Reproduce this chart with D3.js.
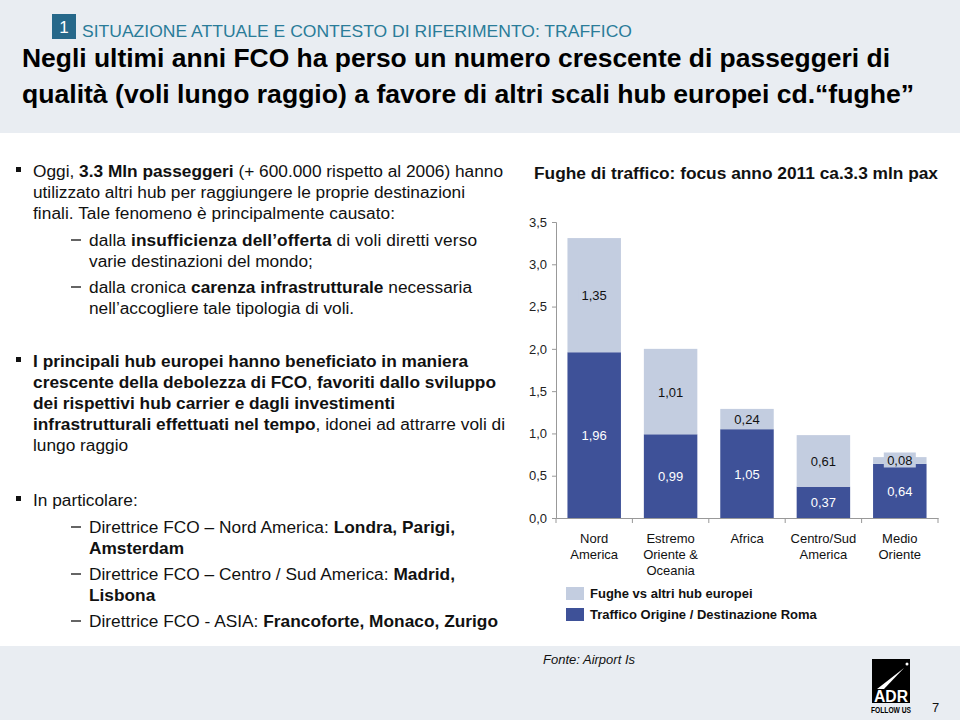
<!DOCTYPE html>
<html><head><meta charset="utf-8">
<script src="https://cdn.jsdelivr.net/npm/d3@7"></script>
<style>body{margin:0;background:#fff}svg{display:block}text{font-family:"Liberation Sans",Arial,sans-serif}</style>
</head><body>
<script>
const categories = ["Nord America", "Estremo Oriente & Oceania", "Africa", "Centro/Sud America", "Medio Oriente"];
const categoryLines = [["Nord","America"],["Estremo","Oriente &","Oceania"],["Africa"],["Centro/Sud","America"],["Medio","Oriente"]];
const traffico = [1.96, 0.99, 1.05, 0.37, 0.64];
const fughe = [1.35, 1.01, 0.24, 0.61, 0.08];
const yTicks = [0, 0.5, 1.0, 1.5, 2.0, 2.5, 3.0, 3.5];
const seriesNames = ["Fughe vs altri hub europei", "Traffico Origine / Destinazione Roma"];

const W = 960, H = 720;
const svg = d3.select("body").append("svg").attr("width", W).attr("height", H);

// header & footer bands
svg.append("rect").attr("x",0).attr("y",0).attr("width",W).attr("height",133).attr("fill","#e9edf2");
svg.append("rect").attr("x",0).attr("y",646).attr("width",W).attr("height",74).attr("fill","#e9edf2");

svg.append("rect").attr("x",52).attr("y",14).attr("width",24).attr("height",25).attr("fill","#26688a");
svg.append("text").attr("x",64).attr("y",33).attr("text-anchor","middle").attr("fill","#fff").attr("font-size",17).text("1");
svg.append("text").attr("x",82).attr("y",37).attr("fill","#2a7c99").attr("font-size",17)
  .style("font-family","'Liberation Sans Narrow','Liberation Sans',Arial")
  .attr("textLength",550).attr("lengthAdjust","spacingAndGlyphs")
  .text("SITUAZIONE ATTUALE E CONTESTO DI RIFERIMENTO: TRAFFICO");
svg.append("text").attr("x",22).attr("y",67).attr("fill","#000").attr("font-size",26).attr("font-weight","bold")
  .style("font-family","'Liberation Sans Narrow','Liberation Sans',Arial")
  .attr("textLength",868).attr("lengthAdjust","spacingAndGlyphs")
  .text("Negli ultimi anni FCO ha perso un numero crescente di passeggeri di");
svg.append("text").attr("x",22).attr("y",103).attr("fill","#000").attr("font-size",26).attr("font-weight","bold")
  .style("font-family","'Liberation Sans Narrow','Liberation Sans',Arial")
  .attr("textLength",892).attr("lengthAdjust","spacingAndGlyphs")
  .text("qualità (voli lungo raggio) a favore di altri scali hub europei cd.“fughe”");

// left text
function richLine(x, y, segs, xEnd){
  const t = svg.append("text").attr("x",x).attr("y",y).attr("font-size",17.3).attr("fill","#111");
  segs.forEach(s => t.append("tspan").attr("font-weight", s[1] ? "bold" : "normal").text(s[0]));
  if (xEnd) t.attr("textLength", xEnd - x).attr("lengthAdjust","spacing");
  return t;
}
function bullet(y){ svg.append("rect").attr("x",16).attr("y",y-10).attr("width",5).attr("height",5).attr("fill","#111"); }
function dash(y){ svg.append("line").attr("x1",71).attr("x2",81).attr("y1",y-6).attr("y2",y-6).attr("stroke","#111").attr("stroke-width",1.3); }

bullet(177);
richLine(33,177,[["Oggi, ",0],["3.3 Mln passeggeri",1],[" (+ 600.000 rispetto al 2006) hanno",0]], 503);
richLine(33,198,[["utilizzato altri hub per raggiungere le proprie destinazioni",0]], 465);
richLine(33,219,[["finali. Tale fenomeno è principalmente causato:",0]], 395);
dash(246);
richLine(89,246,[["dalla ",0],["insufficienza dell’offerta",1],[" di voli  diretti verso",0]], 477);
richLine(89,267,[["varie destinazioni del mondo;",0]]);
dash(293);
richLine(89,293,[["dalla cronica ",0],["carenza infrastrutturale",1],[" necessaria",0]], 472);
richLine(89,314,[["nell’accogliere tale tipologia di voli.",0]]);

bullet(367);
richLine(33,367,[["I principali hub europei hanno beneficiato in maniera",1]], 468);
richLine(33,388,[["crescente della debolezza di FCO",1],[", ",0],["favoriti dallo sviluppo",1]], 496);
richLine(33,409,[["dei rispettivi hub carrier e dagli investimenti",1]], 395);
richLine(33,430,[["infrastrutturali effettuati nel tempo",1],[", idonei ad attrarre voli di",0]], 505);
richLine(33,451,[["lungo raggio",0]]);

bullet(506);
richLine(33,506,[["In particolare:",0]]);
dash(533);
richLine(89,533,[["Direttrice FCO – Nord America: ",0],["Londra, Parigi,",1]], 455);
richLine(89,554,[["Amsterdam",1]]);
dash(580);
richLine(89,580,[["Direttrice FCO – Centro / Sud America: ",0],["Madrid,",1]], 455);
richLine(89,601,[["Lisbona",1]]);
dash(627);
richLine(89,627,[["Direttrice FCO - ASIA: ",0],["Francoforte, Monaco, Zurigo",1]], 498);

// chart
svg.append("text").attr("x",534).attr("y",179).attr("font-size",16).attr("font-weight","bold").attr("fill","#111")
  .attr("textLength",404).attr("lengthAdjust","spacingAndGlyphs")
  .text("Fughe di traffico: focus anno 2011 ca.3.3 mln pax");

const x = d3.scaleBand().domain(categories).range([556, 938]).paddingInner(0.3).paddingOuter(0.15);
const y = d3.scaleLinear().domain([0, 3.5]).range([518, 222]);
const fmt = v => d3.format(".1f")(v).replace(".", ",");
const fmt2 = v => d3.format(".2f")(v).replace(".", ",");

const darkC = "#3e5198", lightC = "#c3cde0";

const yAxis = svg.append("g").attr("transform","translate(556,0)")
  .call(d3.axisLeft(y).tickValues(yTicks).tickFormat(fmt).tickSize(4).tickPadding(5));
yAxis.select(".domain").attr("stroke","#999");
yAxis.selectAll(".tick line").attr("stroke","#999");
yAxis.selectAll(".tick text").attr("font-size",13).attr("fill","#222").style("font-family","'Liberation Sans',Arial");

const xAxis = svg.append("g").attr("transform","translate(0,518)")
  .call(d3.axisBottom(x).tickSize(0).tickFormat(""));
xAxis.select(".domain").attr("stroke","#999");
const bounds = categories.map(c => x(c) - x.step()*x.paddingInner()/2);
bounds.push(x(categories[categories.length-1]) + x.bandwidth() + x.step()*x.paddingInner()/2);
svg.append("g").selectAll("line").data(bounds).join("line")
  .attr("x1",d=>d).attr("x2",d=>d).attr("y1",518).attr("y2",523).attr("stroke","#999");

const g = svg.append("g");
categories.forEach((c,i) => {
  const base = traffico[i], top = traffico[i] + fughe[i];
  g.append("rect").attr("x",x(c)).attr("width",x.bandwidth()).attr("y",y(base)).attr("height",y(0)-y(base)).attr("fill",darkC);
  g.append("rect").attr("x",x(c)).attr("width",x.bandwidth()).attr("y",y(top)).attr("height",y(base)-y(top)).attr("fill",lightC);
});
categories.forEach((c,i) => {
  const base = traffico[i], top = traffico[i] + fughe[i];
  const cx = x(c) + x.bandwidth()/2;
  const my = (y(base)+y(top))/2;
  g.append("rect").attr("x",cx-16).attr("y",my-8).attr("width",32).attr("height",15).attr("fill",lightC);
  g.append("text").attr("x",cx).attr("y",my+5).attr("text-anchor","middle").attr("font-size",13).attr("fill","#111").text(fmt2(fughe[i]));
  g.append("text").attr("x",cx).attr("y",(y(0)+y(base))/2+5).attr("text-anchor","middle").attr("font-size",13).attr("fill","#fff").text(fmt2(traffico[i]));
  categoryLines[i].forEach((ln,j) => {
    g.append("text").attr("x",cx).attr("y",543+j*16).attr("text-anchor","middle").attr("font-size",13).attr("fill","#111").text(ln);
  });
});

// legend
[lightC, darkC].forEach((col,i) => {
  svg.append("rect").attr("x",566).attr("y",587+i*21).attr("width",18).attr("height",13).attr("fill",col);
  svg.append("text").attr("x",590).attr("y",598+i*21).attr("font-size",13).attr("font-weight","bold").attr("fill","#111").text(seriesNames[i]);
});

// footer
svg.append("text").attr("x",543).attr("y",664).attr("font-size",13).attr("font-style","italic").attr("fill","#111").text("Fonte: Airport Is");
svg.append("rect").attr("x",872).attr("y",659).attr("width",38).attr("height",44).attr("fill","#000");
svg.append("path").attr("d","M877,689 L904,668 L884,689 Z").attr("fill","#fff");
svg.append("circle").attr("cx",907).attr("cy",664).attr("r",1.5).attr("fill","#fff");
svg.append("text").attr("x",891).attr("y",702).attr("text-anchor","middle").attr("font-size",16).attr("font-weight","bold").attr("fill","#fff")
  .attr("textLength",34).attr("lengthAdjust","spacingAndGlyphs").text("ADR");
svg.append("text").attr("x",891).attr("y",713).attr("text-anchor","middle").attr("font-size",9).attr("font-weight","bold").attr("fill","#000")
  .attr("textLength",40).attr("lengthAdjust","spacingAndGlyphs").text("FOLLOW US");
svg.append("text").attr("x",932).attr("y",712).attr("font-size",13).attr("fill","#111").text("7");
</script>
</body></html>
